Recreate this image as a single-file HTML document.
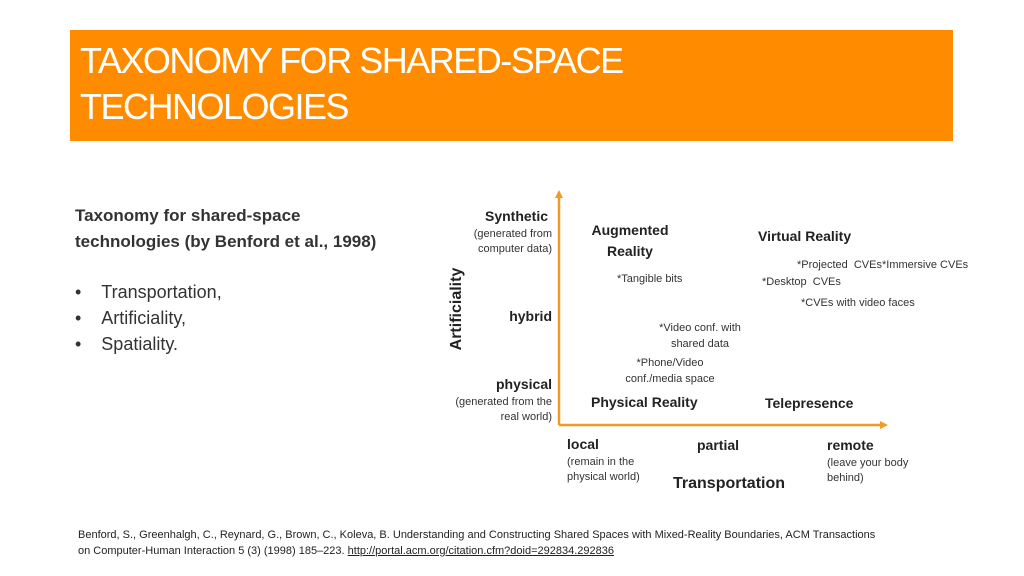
<!DOCTYPE html>
<html><head><meta charset="utf-8"><style>
body{margin:0;width:1024px;height:576px;background:#fff;position:relative;overflow:hidden;font-family:"Liberation Sans",sans-serif;color:#222}
.t{position:absolute;white-space:nowrap}
.b{font-weight:bold}
.s{font-size:11px;color:#333}
.r{text-align:right}
.c{text-align:center}
</style></head><body>
<div style="position:absolute;left:70px;top:30px;width:883px;height:111px;background:#ff8c00"></div>
<div class="t" style="left:80px;top:38px;color:#fff;font-size:36px;line-height:46px;letter-spacing:-1.5px">TAXONOMY FOR SHARED-SPACE<br>TECHNOLOGIES</div>
<div class="t" style="left:75px;top:203px;font-size:17px;line-height:26px;color:#333;font-weight:bold">Taxonomy for shared-space<br>technologies (by Benford et al., 1998)</div>
<div class="t" style="left:75px;top:279px;font-size:18px;line-height:26px;color:#333">•&nbsp;&nbsp;&nbsp;&nbsp;Transportation,<br>•&nbsp;&nbsp;&nbsp;&nbsp;Artificiality,<br>•&nbsp;&nbsp;&nbsp;&nbsp;Spatiality.</div>
<svg style="position:absolute;left:0;top:0" width="1024" height="576">
<line x1="559" y1="196" x2="559" y2="425" stroke="#f39a26" stroke-width="2.5"/>
<polygon points="559,190 555,198 563,198" fill="#f39a26"/>
<line x1="559" y1="425" x2="882" y2="425" stroke="#f39a26" stroke-width="2.5"/>
<polygon points="888,425 880,421 880,429" fill="#f39a26"/>
</svg>
<div class="t b" style="left:407px;top:300px;font-size:16px;transform:rotate(-90deg);width:100px;text-align:center">Artificiality</div>
<div class="t b r" style="right:476px;top:208px;font-size:14px">Synthetic</div>
<div class="t s r" style="right:472px;top:227px;line-height:15px">(generated from<br>computer data)</div>
<div class="t b r" style="right:472px;top:308px;font-size:14px">hybrid</div>
<div class="t b r" style="right:472px;top:376px;font-size:14px">physical</div>
<div class="t s r" style="right:472px;top:395px;line-height:15px">(generated from the<br>real world)</div>
<div class="t b" style="left:567px;top:436px;font-size:14px">local</div>
<div class="t s" style="left:567px;top:455px;line-height:15px">(remain in the<br>physical world)</div>
<div class="t b" style="left:697px;top:437px;font-size:14px">partial</div>
<div class="t b" style="left:827px;top:437px;font-size:14px">remote</div>
<div class="t s" style="left:827px;top:456px;line-height:15px">(leave your body<br>behind)</div>
<div class="t b" style="left:673px;top:475px;font-size:16px">Transportation</div>
<div class="t b c" style="left:580px;top:220px;width:100px;font-size:14px;line-height:21px">Augmented<br>Reality</div>
<div class="t b" style="left:758px;top:228px;font-size:14px">Virtual Reality</div>
<div class="t b" style="left:591px;top:394px;font-size:14px">Physical Reality</div>
<div class="t b" style="left:765px;top:395px;font-size:14px">Telepresence</div>
<div class="t s" style="left:617px;top:273px">*Tangible bits</div>
<div class="t s" style="left:797px;top:259px">*Projected&nbsp; CVEs*Immersive CVEs</div>
<div class="t s" style="left:762px;top:276px">*Desktop&nbsp; CVEs</div>
<div class="t s" style="left:801px;top:297px">*CVEs with video faces</div>
<div class="t s c" style="left:640px;top:320px;width:120px;line-height:16px">*Video conf. with<br>shared data</div>
<div class="t s c" style="left:610px;top:355px;width:120px;line-height:16px">*Phone/Video<br>conf./media space</div>
<div class="t" style="left:78px;top:527px;font-size:11px;line-height:16px;color:#222">Benford, S., Greenhalgh, C., Reynard, G., Brown, C., Koleva, B. Understanding and Constructing Shared Spaces with Mixed-Reality Boundaries, ACM Transactions<br>on Computer-Human Interaction 5 (3) (1998) 185–223. <span style="text-decoration:underline">http://portal.acm.org/citation.cfm?doid=292834.292836</span></div>
</body></html>
